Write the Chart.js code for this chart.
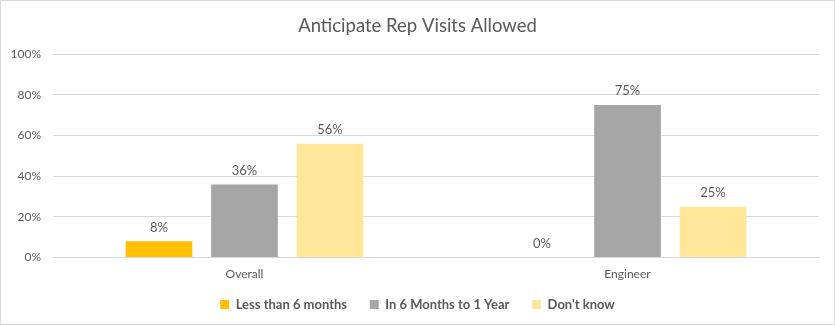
<!DOCTYPE html>
<html>
<head>
<meta charset="utf-8">
<script src="https://cdn.jsdelivr.net/npm/chart.js@4/dist/chart.umd.min.js"></script>
<style>
  html, body { margin: 0; padding: 0; background: #fff; }
  #wrap { position: relative; width: 833px; height: 323px; border: 1px solid #d9d9d9; }
</style>
</head>
<body>
<div id="wrap"><canvas id="chart"></canvas></div>
<script>
const categories = ["Overall", "Engineer"];
const seriesNames = ["Less than 6 months", "In 6 Months to 1 Year", "Don't know"];
const lessThan6 = [8, 0];
const sixTo12 = [36, 75];
const dontKnow = [56, 25];
const colors = ["#FFC000", "#A5A5A5", "#FFE699"];
const textColor = "#595959";
const fontFamily = "Lato, 'Liberation Sans', sans-serif";

// draws the value above each bar, like Excel data labels
const barLabels = {
  id: "barLabels",
  afterLayout(chart) {
    // centre title and legend on the whole canvas, not the padded box
    [chart.titleBlock, chart.legend].forEach((b) => {
      if (b) { b.left = 0; b.right = chart.width; }
    });
  },
  afterDatasetsDraw(chart) {
    const ctx = chart.ctx;
    ctx.save();
    ctx.font = "13px " + fontFamily;
    ctx.fillStyle = textColor;
    ctx.textAlign = "center";
    ctx.textBaseline = "middle";
    chart.data.datasets.forEach((ds, i) => {
      chart.getDatasetMeta(i).data.forEach((bar, j) => {
        ctx.fillText(ds.data[j] + "%", bar.x, bar.y - 14);
      });
    });
    ctx.restore();
  }
};

new Chart(document.getElementById("chart"), {
  type: "bar",
  data: {
    labels: categories,
    datasets: [
      { label: seriesNames[0], data: lessThan6, backgroundColor: colors[0] },
      { label: seriesNames[1], data: sixTo12, backgroundColor: colors[1] },
      { label: seriesNames[2], data: dontKnow, backgroundColor: colors[2] },
    ],
  },
  options: {
    responsive: true,
    maintainAspectRatio: false,
    animation: false,
    layout: { padding: { left: 0, right: 15, top: 10, bottom: 3 } },
    datasets: {
      bar: { categoryPercentage: 0.67, barPercentage: 0.78 },
    },
    plugins: {
      title: {
        display: true,
        text: "Anticipate Rep Visits Allowed",
        color: textColor,
        font: { family: fontFamily, size: 18.5, weight: "normal" },
        padding: { top: 4, bottom: 17 },
      },
      legend: {
        position: "bottom",
        labels: {
          color: textColor,
          font: { family: fontFamily, size: 13, weight: "bold" },
          boxWidth: 9,
          boxHeight: 9,
          padding: 10,
          generateLabels(chart) {
            const items = Chart.defaults.plugins.legend.labels.generateLabels(chart);
            items.forEach((it, i) => {
              if (i < items.length - 1) it.text += "    ";
            });
            return items;
          },
        },
      },
      tooltip: { enabled: false },
    },
    scales: {
      x: {
        afterFit(scale) { scale.height += 6; },
        grid: { display: false },
        border: { color: "#d9d9d9" },
        ticks: { color: textColor, font: { family: fontFamily, size: 12 }, padding: 1 },
      },
      y: {
        min: 0,
        max: 100,
        afterFit(scale) { scale.width = 52; },
        grid: { color: "#d9d9d9", drawTicks: false },
        border: { display: false },
        ticks: {
          stepSize: 20,
          color: textColor,
          padding: 12,
          font: { family: fontFamily, size: 12 },
          callback: (v) => v + "%",
        },
      },
    },
  },
  plugins: [barLabels],
});
</script>
</body>
</html>
